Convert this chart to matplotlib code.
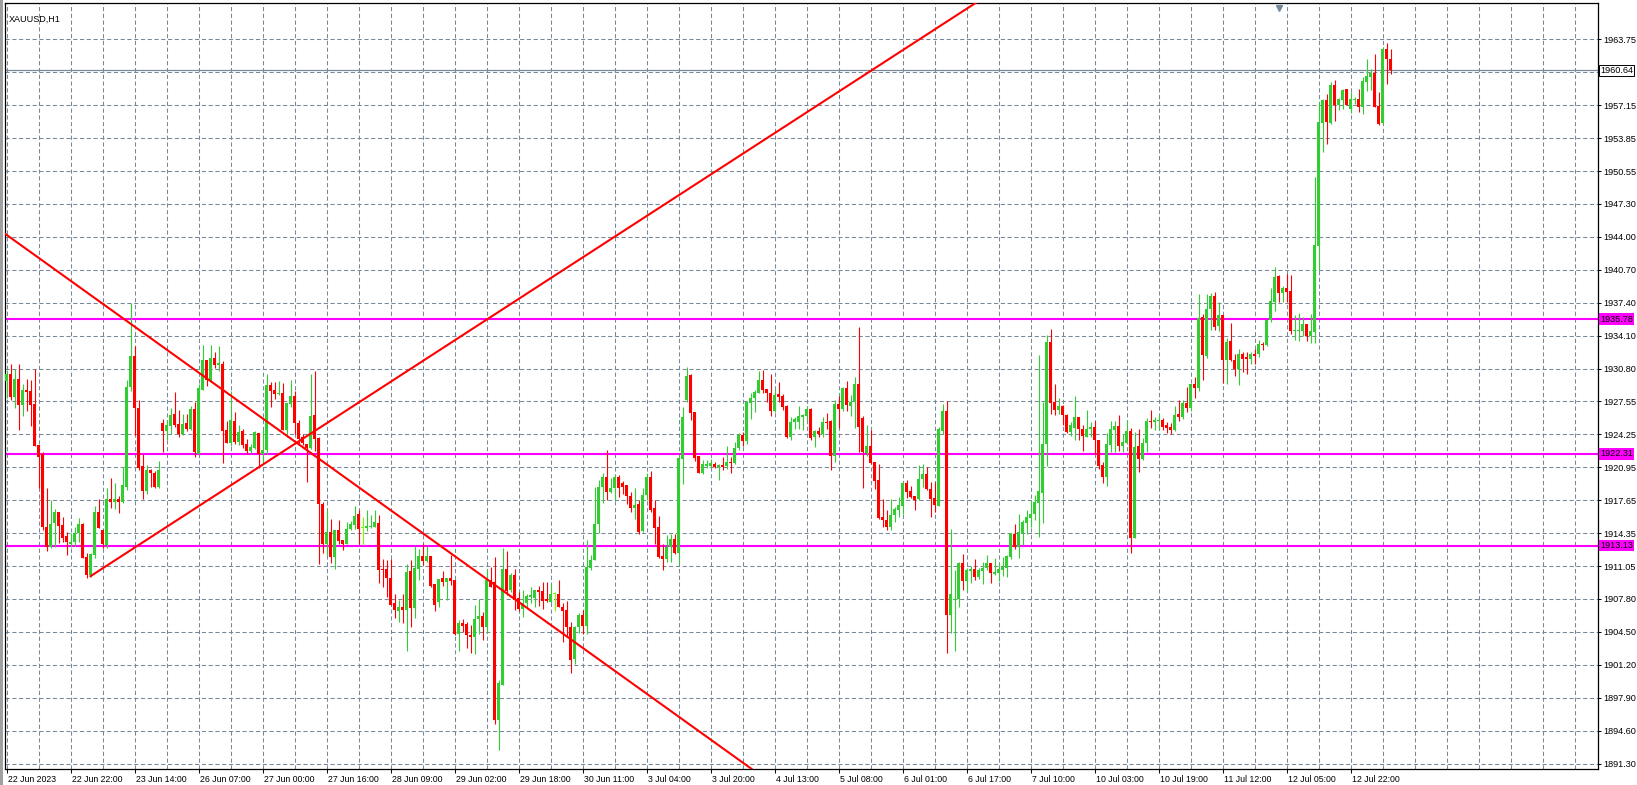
import numpy as np
import matplotlib
matplotlib.use("Agg")
import matplotlib.pyplot as plt
from matplotlib import transforms

# XAUUSD H1 candles (bar 0 = first visible bar)
opens = [
    1929.6, 1930.3, 1928.0, 1929.8, 1927.2, 1928.7, 1928.6, 1927.3, 1923.2, 1922.3,
    1915.0, 1913.0, 1915.4, 1916.5, 1915.2, 1914.1, 1913.3, 1913.5, 1914.4, 1915.3,
    1912.0, 1910.2, 1912.2, 1916.5, 1914.7, 1913.2, 1917.8, 1917.5, 1917.8, 1917.5,
    1919.0, 1929.0, 1932.1, 1926.9, 1921.1, 1918.6, 1920.7, 1920.4, 1919.0, 1925.4,
    1924.6, 1925.1, 1926.3, 1925.3, 1924.3, 1925.4, 1924.8, 1926.8, 1922.3, 1928.7,
    1931.7, 1929.7, 1931.9, 1931.2, 1931.3, 1924.7, 1923.4, 1925.6, 1923.5, 1924.6,
    1923.3, 1922.6, 1922.9, 1924.4, 1922.3, 1922.7, 1929.2, 1928.7, 1928.3, 1928.4,
    1924.7, 1927.3, 1928.1, 1925.4, 1924.0, 1923.3, 1922.9, 1926.2, 1923.9, 1917.3,
    1913.3, 1914.5, 1912.0, 1914.7, 1913.7, 1913.3, 1914.8, 1915.2, 1916.3, 1914.9,
    1914.9, 1915.0, 1915.0, 1915.4, 1910.8, 1910.8, 1909.9, 1907.4, 1906.6, 1907.0,
    1906.7, 1910.6, 1906.9, 1910.8, 1912.1, 1911.6, 1912.1, 1909.3, 1907.5, 1909.9,
    1909.5, 1909.9, 1909.7, 1904.3, 1905.4, 1905.3, 1904.2, 1904.0, 1905.8, 1906.1,
    1905.0, 1909.7, 1909.5, 1895.7, 1899.2, 1910.8, 1908.7, 1910.2, 1907.9, 1906.8,
    1907.4, 1908.0, 1907.9, 1908.7, 1908.6, 1907.8, 1907.5, 1908.3, 1908.3, 1907.0,
    1906.7, 1905.0, 1901.8, 1905.0, 1906.2, 1905.1, 1910.9, 1911.7, 1915.3, 1919.0,
    1920.0, 1918.5, 1918.9, 1920.0, 1919.4, 1919.2, 1918.1, 1916.9, 1917.3, 1914.6,
    1918.2, 1920.0, 1916.9, 1915.0, 1912.1, 1911.8, 1913.0, 1913.8, 1912.4, 1921.8,
    1927.7, 1930.2, 1926.5, 1922.1, 1920.4, 1921.1, 1921.1, 1921.3, 1921.0, 1921.2,
    1921.1, 1921.5, 1921.4, 1922.9, 1924.2, 1923.6, 1927.4, 1927.9, 1928.4, 1929.7,
    1928.8, 1928.4, 1926.6, 1928.3, 1928.1, 1927.1, 1924.0, 1925.5, 1925.5, 1926.0,
    1926.1, 1926.8, 1924.0, 1924.6, 1924.3, 1925.5, 1925.6, 1922.1, 1927.3, 1926.8,
    1928.9, 1927.1, 1927.5, 1929.3, 1925.9, 1922.4, 1923.1, 1921.5, 1919.7, 1916.0,
    1915.7, 1915.0, 1916.2, 1916.7, 1917.1, 1919.4, 1918.6, 1918.1, 1917.8, 1919.8,
    1920.3, 1918.8, 1917.9, 1917.1, 1924.6, 1926.6, 1906.2, 1907.7, 1907.8, 1911.4,
    1909.6, 1910.6, 1910.8, 1910.0, 1910.6, 1910.9, 1911.4, 1910.3, 1910.4, 1910.7,
    1910.9, 1912.0, 1914.3, 1913.0, 1914.4, 1915.4, 1915.9, 1916.3, 1917.4, 1918.4,
    1923.3, 1933.5, 1927.5, 1926.7, 1927.1, 1926.2, 1924.5, 1924.9, 1926.0, 1924.8,
    1924.0, 1924.8, 1925.0, 1923.7, 1921.2, 1920.0, 1923.2, 1924.7, 1925.1, 1923.1,
    1923.4, 1924.6, 1913.9, 1923.1, 1921.8, 1923.4, 1925.6, 1925.5, 1925.6, 1925.7,
    1925.2, 1925.0, 1924.7, 1926.3, 1926.0, 1927.4, 1926.9, 1929.3, 1928.9, 1936.0,
    1932.1, 1936.8, 1938.1, 1935.1, 1936.2, 1931.7, 1933.6, 1931.7, 1930.8, 1932.3,
    1932.0, 1931.8, 1932.3, 1932.3, 1933.3, 1933.2, 1935.7, 1937.5, 1940.1, 1938.4,
    1938.9, 1938.6, 1934.6, 1934.6, 1934.6, 1935.3, 1934.1, 1934.5, 1943.1, 1955.4,
    1957.7, 1955.4, 1959.2, 1957.2, 1957.7, 1958.8, 1956.8, 1957.7, 1957.8, 1957.0,
    1959.5, 1960.0, 1960.4, 1957.1, 1955.4, 1962.8, 1961.8,
]
highs = [
    1930.7, 1931.3, 1930.8, 1931.3, 1929.3, 1929.8, 1929.7, 1930.8, 1923.2, 1922.5,
    1918.9, 1917.7, 1916.8, 1916.5, 1916.0, 1914.5, 1914.4, 1915.0, 1915.9, 1915.4,
    1912.4, 1912.4, 1917.1, 1917.8, 1914.7, 1918.9, 1919.9, 1919.4, 1918.1, 1921.0,
    1929.7, 1937.4, 1933.1, 1927.7, 1922.3, 1921.2, 1920.8, 1920.6, 1921.6, 1925.8,
    1925.7, 1926.9, 1928.5, 1926.7, 1926.3, 1926.3, 1927.1, 1927.5, 1929.3, 1933.2,
    1931.7, 1933.2, 1932.5, 1933.1, 1931.6, 1925.6, 1928.6, 1926.5, 1925.2, 1924.8,
    1923.8, 1923.3, 1924.6, 1924.4, 1924.7, 1930.3, 1929.5, 1929.5, 1929.6, 1929.4,
    1927.4, 1929.7, 1928.6, 1925.7, 1924.3, 1923.3, 1930.3, 1930.6, 1924.0, 1917.5,
    1916.7, 1915.8, 1914.7, 1915.7, 1913.7, 1915.5, 1915.6, 1917.1, 1916.7, 1916.0,
    1916.7, 1916.2, 1916.7, 1916.2, 1911.8, 1911.7, 1911.8, 1908.3, 1907.7, 1908.3,
    1911.3, 1911.7, 1913.1, 1912.8, 1913.3, 1913.1, 1912.1, 1909.3, 1909.8, 1910.6,
    1909.9, 1912.2, 1909.7, 1905.7, 1905.8, 1905.5, 1905.2, 1907.2, 1907.8, 1906.5,
    1910.8, 1911.0, 1912.0, 1899.7, 1912.9, 1912.6, 1910.4, 1910.8, 1908.5, 1908.7,
    1908.3, 1909.0, 1908.7, 1909.1, 1909.5, 1909.5, 1909.3, 1908.5, 1909.7, 1907.4,
    1907.6, 1905.5, 1905.1, 1906.4, 1906.7, 1913.7, 1912.2, 1919.0, 1919.7, 1920.4,
    1922.7, 1919.9, 1920.2, 1920.2, 1919.6, 1919.2, 1918.5, 1918.9, 1917.7, 1918.9,
    1920.4, 1920.6, 1917.7, 1916.1, 1913.3, 1914.2, 1914.3, 1914.3, 1922.0, 1927.0,
    1931.0, 1930.3, 1926.5, 1922.1, 1921.7, 1921.7, 1921.8, 1921.5, 1921.3, 1922.0,
    1923.1, 1922.0, 1923.5, 1924.4, 1924.5, 1927.5, 1928.4, 1928.7, 1930.6, 1930.7,
    1928.8, 1930.3, 1928.8, 1929.5, 1928.3, 1927.2, 1926.0, 1926.0, 1927.1, 1926.3,
    1927.1, 1926.9, 1924.7, 1925.0, 1926.0, 1926.4, 1925.7, 1927.7, 1928.1, 1929.0,
    1929.6, 1928.2, 1930.0, 1935.0, 1926.1, 1925.2, 1924.7, 1921.5, 1921.3, 1917.8,
    1916.7, 1917.8, 1917.0, 1918.0, 1919.5, 1919.7, 1919.1, 1918.1, 1921.2, 1921.3,
    1921.0, 1919.5, 1919.5, 1925.0, 1927.3, 1927.6, 1914.8, 1910.7, 1911.5, 1912.3,
    1910.9, 1911.1, 1911.8, 1910.9, 1911.5, 1912.2, 1911.4, 1911.9, 1911.4, 1912.0,
    1912.2, 1914.4, 1915.3, 1916.3, 1915.7, 1916.7, 1917.7, 1918.2, 1932.2, 1927.5,
    1934.2, 1934.8, 1929.3, 1927.9, 1927.2, 1926.3, 1925.5, 1928.1, 1926.0, 1925.2,
    1926.7, 1925.5, 1925.6, 1923.7, 1921.5, 1924.4, 1925.6, 1925.6, 1926.2, 1924.3,
    1925.7, 1924.9, 1924.5, 1924.8, 1923.9, 1925.9, 1926.7, 1926.0, 1926.3, 1925.9,
    1925.5, 1925.4, 1927.1, 1927.7, 1927.7, 1929.0, 1929.3, 1930.0, 1938.3, 1936.3,
    1938.3, 1938.4, 1938.5, 1937.5, 1936.2, 1933.9, 1935.4, 1932.3, 1932.8, 1932.5,
    1932.5, 1932.5, 1932.8, 1933.7, 1933.5, 1935.7, 1938.9, 1941.0, 1940.2, 1939.1,
    1940.3, 1940.2, 1936.2, 1936.4, 1936.0, 1935.3, 1936.3, 1950.0, 1957.5, 1957.8,
    1958.3, 1959.5, 1959.7, 1957.9, 1958.8, 1958.8, 1958.5, 1958.0, 1958.8, 1960.0,
    1961.8, 1960.8, 1962.3, 1958.5, 1963.0, 1963.4, 1962.8,
]
lows = [
    1927.9, 1927.7, 1926.9, 1924.7, 1926.1, 1926.6, 1925.1, 1923.1, 1918.9, 1914.7,
    1912.6, 1912.9, 1913.0, 1913.4, 1913.5, 1912.2, 1913.0, 1913.1, 1913.5, 1911.9,
    1909.9, 1910.0, 1911.9, 1914.9, 1912.9, 1912.9, 1916.9, 1916.8, 1916.4, 1917.4,
    1918.7, 1928.6, 1924.2, 1920.7, 1917.8, 1918.3, 1919.0, 1918.9, 1918.9, 1922.5,
    1923.7, 1924.3, 1925.0, 1924.0, 1924.2, 1924.6, 1924.7, 1922.0, 1922.3, 1928.7,
    1929.1, 1929.5, 1930.9, 1930.6, 1921.4, 1923.4, 1923.1, 1923.3, 1923.2, 1922.9,
    1922.3, 1922.4, 1922.8, 1920.9, 1921.5, 1922.3, 1927.0, 1927.8, 1928.2, 1924.7,
    1924.0, 1927.0, 1924.3, 1923.3, 1923.2, 1919.5, 1922.8, 1922.6, 1911.3, 1912.4,
    1912.2, 1911.4, 1910.8, 1913.3, 1912.7, 1913.3, 1914.7, 1914.8, 1913.3, 1913.2,
    1914.6, 1914.9, 1915.0, 1909.4, 1909.0, 1908.0, 1907.2, 1905.9, 1905.5, 1905.4,
    1902.6, 1905.0, 1905.9, 1909.7, 1911.2, 1911.5, 1909.0, 1906.6, 1907.0, 1909.1,
    1907.7, 1909.2, 1904.2, 1902.6, 1904.5, 1902.9, 1902.4, 1902.3, 1904.3, 1903.7,
    1904.4, 1909.0, 1895.3, 1892.7, 1899.2, 1908.2, 1908.5, 1906.7, 1906.6, 1906.0,
    1906.9, 1907.4, 1907.0, 1907.1, 1906.8, 1907.5, 1907.4, 1906.6, 1907.0, 1903.5,
    1904.0, 1900.4, 1901.3, 1904.4, 1904.3, 1904.3, 1910.7, 1911.7, 1914.4, 1917.4,
    1917.7, 1918.4, 1917.7, 1918.0, 1918.3, 1917.3, 1916.5, 1915.8, 1914.3, 1914.5,
    1917.7, 1916.5, 1913.3, 1911.9, 1910.7, 1911.5, 1911.5, 1912.3, 1911.3, 1919.3,
    1927.5, 1925.7, 1921.6, 1920.4, 1920.3, 1920.9, 1920.9, 1920.9, 1919.7, 1920.7,
    1920.8, 1920.4, 1921.3, 1922.7, 1923.1, 1923.3, 1925.8, 1926.5, 1928.4, 1928.4,
    1927.5, 1926.1, 1926.5, 1927.5, 1926.7, 1923.9, 1923.7, 1924.8, 1924.8, 1924.7,
    1925.7, 1923.7, 1923.0, 1924.0, 1924.0, 1924.8, 1920.7, 1921.5, 1924.9, 1926.6,
    1926.6, 1926.1, 1924.9, 1922.5, 1918.9, 1922.1, 1921.3, 1918.8, 1915.8, 1915.0,
    1914.7, 1914.7, 1915.5, 1916.0, 1916.3, 1917.9, 1917.9, 1916.7, 1917.7, 1919.0,
    1918.7, 1916.0, 1916.5, 1917.1, 1924.3, 1902.4, 1904.4, 1902.6, 1907.0, 1908.7,
    1908.6, 1909.4, 1909.7, 1909.8, 1909.3, 1910.7, 1909.4, 1910.2, 1909.6, 1910.1,
    1910.0, 1911.8, 1912.8, 1911.9, 1913.2, 1914.3, 1915.0, 1915.7, 1914.0, 1915.4,
    1921.1, 1926.3, 1926.2, 1926.3, 1925.2, 1924.4, 1924.1, 1923.7, 1923.7, 1922.6,
    1924.0, 1924.0, 1922.3, 1920.8, 1919.4, 1919.1, 1922.5, 1922.5, 1922.6, 1922.5,
    1923.4, 1912.4, 1913.9, 1920.5, 1921.7, 1922.5, 1924.9, 1924.7, 1924.7, 1924.7,
    1924.4, 1924.3, 1924.6, 1925.6, 1925.8, 1926.5, 1926.6, 1927.9, 1928.6, 1929.7,
    1931.9, 1934.7, 1934.7, 1934.6, 1929.4, 1929.3, 1931.6, 1930.1, 1929.2, 1930.5,
    1930.3, 1931.3, 1931.3, 1932.0, 1932.7, 1933.1, 1935.5, 1936.6, 1937.5, 1937.5,
    1937.5, 1934.3, 1933.7, 1933.6, 1934.1, 1933.6, 1933.4, 1933.4, 1940.7, 1952.5,
    1953.3, 1955.3, 1955.6, 1956.7, 1956.8, 1957.2, 1956.4, 1957.3, 1956.5, 1956.3,
    1958.6, 1958.7, 1957.0, 1955.2, 1955.3, 1959.3, 1960.3,
]
closes = [
    1930.3, 1928.0, 1929.8, 1927.2, 1928.7, 1928.5, 1927.2, 1923.1, 1922.0, 1915.0,
    1913.0, 1915.3, 1916.5, 1915.1, 1913.9, 1913.5, 1913.5, 1914.4, 1915.3, 1911.9,
    1910.2, 1912.3, 1916.5, 1914.9, 1913.3, 1917.8, 1917.5, 1917.8, 1917.5, 1919.2,
    1929.0, 1932.1, 1926.9, 1920.9, 1918.6, 1920.7, 1920.4, 1919.0, 1920.7, 1924.6,
    1925.2, 1926.2, 1925.2, 1924.3, 1925.3, 1924.8, 1926.8, 1922.5, 1928.9, 1931.7,
    1929.7, 1931.9, 1931.2, 1931.4, 1924.6, 1923.4, 1925.7, 1923.5, 1924.5, 1923.2,
    1922.6, 1923.0, 1924.5, 1922.3, 1922.7, 1929.2, 1928.6, 1928.3, 1928.4, 1924.7,
    1927.4, 1928.1, 1925.4, 1923.8, 1923.4, 1922.9, 1926.1, 1923.8, 1917.3, 1913.3,
    1914.5, 1912.0, 1914.7, 1913.6, 1913.3, 1914.8, 1915.3, 1916.1, 1914.8, 1914.9,
    1915.1, 1915.1, 1915.5, 1910.7, 1910.7, 1909.9, 1907.2, 1906.7, 1907.0, 1906.7,
    1910.5, 1906.9, 1910.9, 1912.1, 1911.6, 1912.1, 1909.1, 1907.2, 1909.8, 1909.5,
    1909.9, 1909.6, 1904.3, 1905.4, 1905.1, 1904.2, 1904.0, 1905.8, 1906.1, 1905.0,
    1909.7, 1909.0, 1895.7, 1899.4, 1910.8, 1908.6, 1910.2, 1907.7, 1906.8, 1907.4,
    1908.1, 1908.2, 1908.7, 1908.5, 1907.6, 1907.6, 1908.3, 1908.3, 1907.0, 1906.6,
    1905.0, 1901.7, 1905.0, 1906.2, 1905.1, 1911.0, 1911.7, 1915.3, 1919.0, 1920.0,
    1918.5, 1918.9, 1920.0, 1918.9, 1919.0, 1918.1, 1916.9, 1917.2, 1914.5, 1918.2,
    1920.0, 1916.7, 1914.9, 1912.0, 1911.8, 1913.0, 1913.8, 1912.4, 1921.9, 1926.0,
    1930.1, 1926.4, 1921.9, 1920.4, 1921.3, 1921.3, 1921.4, 1921.0, 1921.2, 1921.0,
    1921.5, 1921.4, 1922.9, 1924.2, 1923.6, 1927.5, 1927.9, 1928.5, 1929.7, 1928.7,
    1928.4, 1926.6, 1928.2, 1928.0, 1927.0, 1924.0, 1925.5, 1925.8, 1926.1, 1926.2,
    1926.8, 1923.9, 1924.6, 1924.3, 1925.5, 1925.4, 1922.1, 1927.3, 1926.8, 1928.9,
    1927.2, 1927.5, 1929.3, 1925.0, 1922.5, 1923.1, 1921.4, 1919.6, 1915.9, 1915.7,
    1915.0, 1916.2, 1916.8, 1917.2, 1919.4, 1918.5, 1918.0, 1917.7, 1919.8, 1920.3,
    1918.8, 1917.8, 1917.2, 1924.8, 1926.6, 1906.2, 1908.3, 1907.8, 1911.4, 1909.6,
    1910.7, 1910.8, 1910.0, 1910.7, 1910.9, 1911.4, 1910.4, 1910.5, 1910.8, 1911.0,
    1912.1, 1914.4, 1913.0, 1914.5, 1915.5, 1916.0, 1916.3, 1917.5, 1918.6, 1923.3,
    1933.5, 1927.4, 1926.7, 1927.1, 1926.2, 1924.5, 1925.2, 1926.0, 1924.8, 1924.1,
    1924.8, 1925.0, 1923.7, 1921.1, 1920.0, 1923.3, 1924.8, 1925.1, 1923.1, 1923.5,
    1924.6, 1913.9, 1923.0, 1921.8, 1923.4, 1925.6, 1925.5, 1925.7, 1925.7, 1925.0,
    1924.9, 1924.7, 1926.2, 1926.0, 1927.4, 1926.9, 1929.3, 1928.9, 1935.9, 1932.2,
    1936.8, 1938.1, 1935.0, 1936.2, 1931.7, 1933.5, 1931.7, 1930.8, 1932.3, 1931.8,
    1931.8, 1932.3, 1932.1, 1933.3, 1933.2, 1935.7, 1937.6, 1940.0, 1938.4, 1938.9,
    1938.5, 1934.6, 1934.7, 1934.7, 1935.3, 1934.1, 1934.6, 1943.2, 1955.5, 1957.7,
    1955.5, 1959.2, 1957.2, 1957.8, 1958.7, 1957.2, 1957.8, 1957.8, 1957.0, 1959.6,
    1960.1, 1960.4, 1957.0, 1955.3, 1962.8, 1961.8, 1960.7,
]

date_labels = ['22 Jun 2023', '22 Jun 22:00', '23 Jun 14:00', '26 Jun 07:00', '27 Jun 00:00',
               '27 Jun 16:00', '28 Jun 09:00', '29 Jun 02:00', '29 Jun 18:00', '30 Jun 11:00',
               '3 Jul 04:00', '3 Jul 20:00', '4 Jul 13:00', '5 Jul 08:00', '6 Jul 01:00',
               '6 Jul 17:00', '7 Jul 10:00', '10 Jul 03:00', '10 Jul 19:00', '11 Jul 12:00',
               '12 Jul 05:00', '12 Jul 22:00']
price_ticks = ['1891.30', '1894.60', '1897.90', '1901.20', '1904.50', '1907.80', '1911.05',
               '1914.35', '1917.65', '1920.95', '1924.25', '1927.55', '1930.80', '1934.10',
               '1937.40', '1940.70', '1944.00', '1947.30', '1950.55', '1953.85', '1957.15',
               '1960.45', '1963.75']
levels = [1935.78, 1922.31, 1913.13]
bid = 1960.64
# trend lines as (bar, price) anchor pairs
trend_down = [(0, 1944.20), (115.4, 1911.11)]
trend_up = [(21, 1910.06), (240.6, 1966.95)]

o = np.array(opens); h = np.array(highs); l = np.array(lows); c = np.array(closes)
x = np.arange(len(o))

plt.rcParams['font.family'] = ['Liberation Sans', 'DejaVu Sans']
fig = plt.figure(figsize=(16.37, 7.85), dpi=100)
W, H = 1637, 785
ax = fig.add_axes([5 / W, 16 / H, 1593 / W, 766 / H])

grid_c = '#778899'
ax.set_xlim(-0.375, 397.875)
ax.set_ylim(1890.78, 1967.38)

# grid
for gx in range(0, 400, 8):
    ax.axvline(gx, color=grid_c, lw=0.75, ls=(0, (4, 2.5)), zorder=0)
for t in price_ticks:
    ax.axhline(float(t), color=grid_c, lw=0.75, ls=(0, (4, 2.5)), zorder=0)

# levels and bid line
for lv in levels:
    ax.axhline(lv, color='#FF00FF', lw=1.5, zorder=1)
ax.axhline(bid, color=grid_c, lw=0.9, zorder=1)

# candles
cols = np.where(c > o, '#32CD32', np.where(c < o, '#FF0000', '#7CFC00'))
ax.vlines(x, l, h, colors=cols, lw=0.8, zorder=3)
body = np.maximum(np.abs(c - o), 0.09)
ax.bar(x, body, bottom=np.minimum(o, c), width=0.7, color=cols, linewidth=0, zorder=3)

# trend lines
ax.axline(trend_down[0], trend_down[1], color='#FF0000', lw=1.5, zorder=4)
(x0, y0), (x1, y1) = trend_up
slope = (y1 - y0) / (x1 - x0)
ax.plot([x0, 420], [y0, y0 + slope * (420 - x0)], color='#FF0000', lw=1.5, zorder=4)

# axes styling
for s in ax.spines.values():
    s.set_color('black')
    s.set_linewidth(0.9)
ax.yaxis.tick_right()
ax.set_yticks([float(t) for t in price_ticks])
# the 1960.45 label sits under the bid tag, so it is not shown
ax.set_yticklabels(['' if abs(float(t) - bid) < 1 else t for t in price_ticks])
ax.tick_params(axis='y', length=2.5, width=0.7, pad=1.5, labelsize=6.6, colors='black')
ax.set_xticks(np.arange(len(date_labels)) * 16)
ax.set_xticklabels(date_labels)
ax.tick_params(axis='x', length=3, width=0.7, pad=1.5, labelsize=6.3, colors='black')
off = transforms.ScaledTranslation(2 / 100, 0, fig.dpi_scale_trans)
for lbl in ax.get_xticklabels():
    lbl.set_ha('left')
    lbl.set_transform(lbl.get_transform() + off)

# price tags on the right scale
tr = transforms.blended_transform_factory(ax.transAxes, ax.transData)
for lv in levels:
    ax.text(1.0012, lv, f'{lv:.2f}', transform=tr, va='center', ha='left', fontsize=6.6,
            color='black', zorder=10, clip_on=False,
            bbox=dict(boxstyle='square,pad=0.15', fc='#FF00FF', ec='none'))
ax.text(1.0012, bid, f'{bid:.2f}', transform=tr, va='center', ha='left', fontsize=6.6,
        color='black', zorder=10, clip_on=False,
        bbox=dict(boxstyle='square,pad=0.15', fc='white', ec='black', lw=0.7))

# symbol caption and shift marker
ax.text(0.0025, 0.985, 'XAUUSD,H1', transform=ax.transAxes, fontsize=6.5, va='top', ha='left')
ax.plot([0.8], [0.993], transform=ax.transAxes, marker='v', ms=5, color=grid_c,
        mec=grid_c, clip_on=False, zorder=6)

fig.patches.append(plt.Rectangle((0, 0), 3 / W, 1, transform=fig.transFigure,
                                 fc='#a0a0a0', ec='none'))
fig.savefig('out.png', dpi=100)
